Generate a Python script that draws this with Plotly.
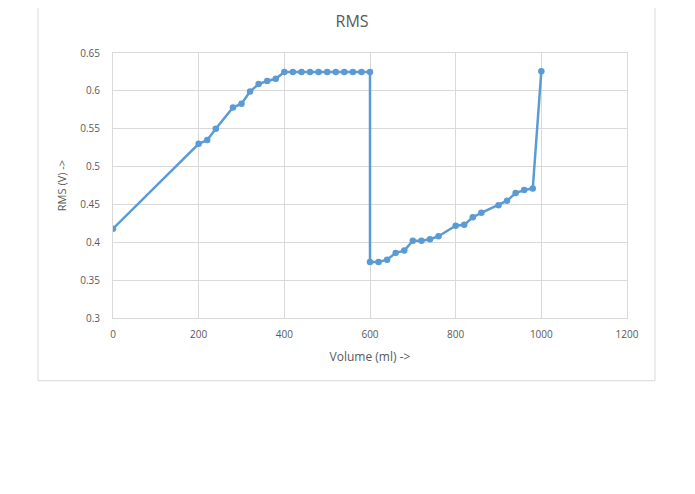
import plotly.graph_objects as go

volume = [0, 200, 220, 240, 280, 300, 320, 340, 360, 380,
          400, 420, 440, 460, 480, 500, 520, 540, 560, 580, 600,
          600, 620, 640, 660, 680, 700, 720, 740, 760,
          800, 820, 840, 860, 900, 920, 940, 960, 980, 1000]
rms = [0.418, 0.530, 0.535, 0.550, 0.578, 0.583, 0.599, 0.609, 0.613, 0.616,
       0.625, 0.625, 0.625, 0.625, 0.625, 0.625, 0.625, 0.625, 0.625, 0.625, 0.625,
       0.374, 0.374, 0.377, 0.386, 0.389, 0.402, 0.402, 0.404, 0.408,
       0.422, 0.423, 0.433, 0.439, 0.449, 0.455, 0.465, 0.469, 0.471, 0.626]

grey = '#595959'
grid = '#D9D9D9'

fig = go.Figure()
fig.add_trace(go.Scatter(x=volume, y=rms, mode='lines+markers',
                         line=dict(color='#5B9BD5', width=2.5),
                         marker=dict(color='#5B9BD5', size=6.5),
                         showlegend=False))

# the page adds ~8px body margin, so margins are set a bit smaller on top/left
fig.update_layout(
    width=695, height=494,
    paper_bgcolor='white', plot_bgcolor='white',
    margin=dict(l=105, r=76, t=45, b=184),
    font=dict(family='Open Sans', color=grey, size=10),
    title=dict(text='RMS', x=0.495, xanchor='center', y=0.972, yanchor='middle',
               font=dict(size=16, color=grey)),
    xaxis=dict(range=[0, 1200], dtick=200, showgrid=True, gridcolor=grid,
               zeroline=False, showline=True, linecolor=grid, mirror=True,
               ticks='', tickfont=dict(size=10, color=grey), ticklabelstandoff=7,
               title=dict(text='Volume (ml) ->', font=dict(size=12, color=grey), standoff=12)),
    yaxis=dict(range=[0.3, 0.65], dtick=0.05, showgrid=True, gridcolor=grid,
               zeroline=False, showline=True, linecolor=grid, mirror=True,
               ticks='', tickfont=dict(size=10, color=grey), ticklabelstandoff=10,
               title=dict(text='RMS (V) ->', font=dict(size=11, color=grey), standoff=11)),
    shapes=[dict(type='rect', xref='paper', yref='paper',
                 x0=-0.1459, x1=1.0545, y0=-0.2366, y1=1.2,
                 line=dict(color=grid, width=1))],
)

fig.write_html("out.html")
